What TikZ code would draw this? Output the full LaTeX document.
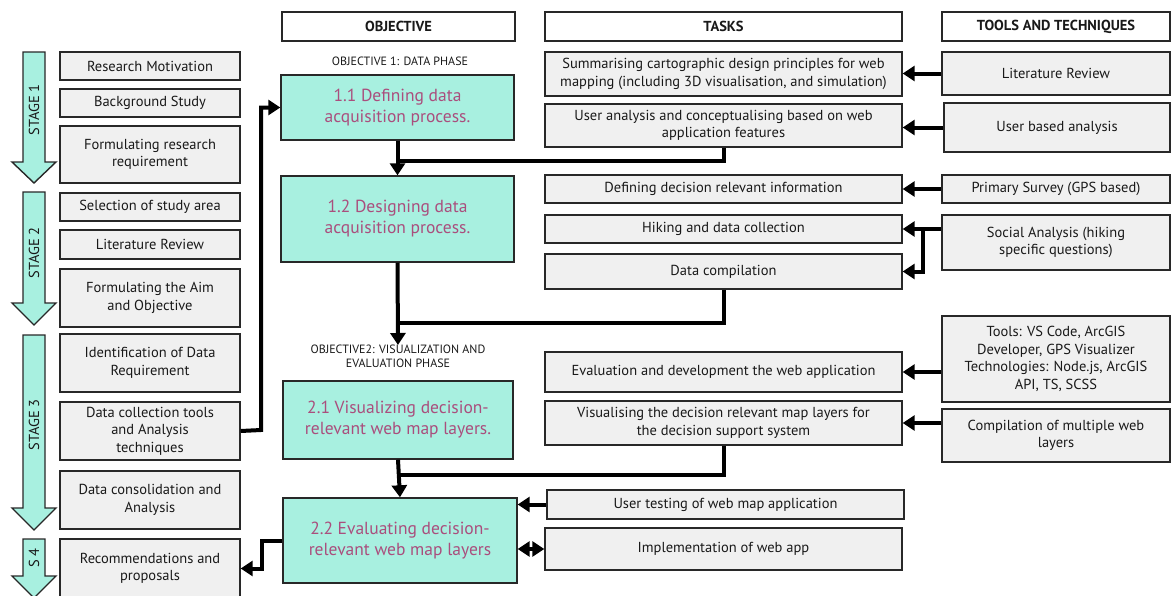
\documentclass[tikz,border=0pt]{standalone}
\usepackage{fontspec}
\setmainfont{PT Sans}
\usetikzlibrary{arrows.meta}
\definecolor{teal1}{RGB}{168,240,224}
\definecolor{gray1}{RGB}{240,240,240}
\definecolor{bord}{RGB}{40,40,40}
\definecolor{pinktxt}{RGB}{170,78,125}
\definecolor{txt}{RGB}{25,25,25}
\newcommand\mybox[7]{%
  \pgfmathsetmacro\bxw{#5-#3}\pgfmathsetmacro\bxh{#6-#4}%
  \node[#1, minimum width=\bxw pt, minimum height=\bxh pt] (#2) at ({(#3+#5)/2},{(#4+#6)/2}) {#7};}
\begin{document}
\begin{tikzpicture}[x=1pt,y=-1pt,
  gbox/.style={draw=bord, line width=1.4pt, fill=gray1, align=center, inner sep=0pt, text=txt, font=\fontsize{14.5}{17.5}\selectfont},
  tbox/.style={draw=bord, line width=1.4pt, fill=teal1, align=center, inner sep=0pt, text=pinktxt, font=\fontsize{17.5}{21}\selectfont},
  hbox/.style={draw=bord, line width=1.4pt, fill=white, align=center, inner sep=0pt, text=txt, font=\bfseries\fontsize{14.5}{17}\selectfont},
  lbl/.style={align=center, text=txt, font=\fontsize{12}{13.5}\selectfont, inner sep=0pt},
  stg/.style={draw=bord, line width=1.4pt, fill=teal1, line join=miter},
  stgl/.style={rotate=90, text=txt, font=\fontsize{14.5}{17}\selectfont, inner sep=0pt},
  ln/.style={line width=4pt, draw=black},
  arr/.style={line width=4pt, draw=black, -{Triangle[length=12pt,width=15pt]}},
  darr/.style={line width=4pt, draw=black, {Triangle[length=12pt,width=15pt]}-{Triangle[length=12pt,width=15pt]}}
]
\useasboundingbox (0,0) rectangle (1171,595);

% stage arrows
\draw[stg] (23,52) -- (45,52) -- (45,162) -- (56,162) -- (34,183) -- (12,162) -- (23,162) -- cycle;
\draw[stg] (23,192) -- (45,192) -- (45,303) -- (56,303) -- (34,325) -- (12,303) -- (23,303) -- cycle;
\draw[stg] (23,335) -- (45,335) -- (45,508) -- (56,508) -- (34,530) -- (12,508) -- (23,508) -- cycle;
\draw[stg] (23,539) -- (45,539) -- (45,576) -- (56,576) -- (34,598) -- (12,576) -- (23,576) -- cycle;
\node[stgl] (s1) at (34,110) {STAGE 1};
\node[stgl] (s2) at (34,253) {STAGE 2};
\node[stgl] (s3) at (34,425) {STAGE 3};
\node[stgl] (s4) at (34,558) {S 4};

% left column
\mybox{gbox}{rm}{60}{52}{240}{80}{Research Motivation}
\mybox{gbox}{bs}{60}{89}{240}{117}{Background Study}
\mybox{gbox}{frr}{60}{126}{240}{183}{Formulating research\\requirement}
\mybox{gbox}{ssa}{60}{193}{240}{221}{Selection of study area}
\mybox{gbox}{lr}{60}{230}{240}{259}{Literature Review}
\mybox{gbox}{fao}{60}{269}{240}{327}{Formulating the Aim\\and Objective}
\mybox{gbox}{idr}{60}{334}{240}{392}{Identification of Data\\Requirement}
\mybox{gbox}{dct}{60}{402}{240}{460}{Data collection tools\\and Analysis\\techniques}
\mybox{gbox}{dca}{60}{471}{240}{529}{Data consolidation and\\Analysis}
\mybox{gbox}{rec}{60}{539}{240}{598}{Recommendations and\\proposals}

% headers
\mybox{hbox}{hobj}{282}{12}{515}{41}{OBJECTIVE}
\mybox{hbox}{htask}{545}{12}{902}{41}{TASKS}
\mybox{hbox}{htool}{942}{12}{1170}{41}{TOOLS AND TECHNIQUES}

% objective column
\node[lbl] (o1) at (400,61) {OBJECTIVE 1: DATA PHASE};
\mybox{tbox}{d11}{281}{75}{514}{140}{1.1 Defining data\\acquisition process.}
\mybox{tbox}{d12}{281}{176}{514}{262}{1.2 Designing data\\acquisition process.}
\node[lbl, anchor=north] (o2) at (398,345) {OBJECTIVE2: VISUALIZATION AND\\EVALUATION PHASE};
\mybox{tbox}{v21}{283}{381}{513}{459}{2.1 Visualizing decision-\\relevant web map layers.}
\mybox{tbox}{e22}{283}{498}{517}{583}{2.2 Evaluating decision-\\relevant web map layers}

% tasks column
\mybox{gbox}{sum}{545}{52}{902}{96}{Summarising cartographic design principles for web\\mapping (including 3D visualisation, and simulation)}
\mybox{gbox}{ua}{545}{104}{902}{147}{User analysis and conceptualising based on web\\application features}
\mybox{gbox}{ddi}{545}{175}{902}{203}{Defining decision relevant information}
\mybox{gbox}{hik}{545}{215}{902}{243}{Hiking and data collection}
\mybox{gbox}{dc}{545}{254}{902}{289}{Data compilation}
\mybox{gbox}{ev}{545}{352}{902}{392}{Evaluation and development the web application}
\mybox{gbox}{vis}{545}{401}{902}{445}{Visualising the decision relevant map layers for\\the decision support system}
\mybox{gbox}{ut}{547}{490}{904}{519}{User testing of web map application}
\mybox{gbox}{imp}{545}{528}{902}{570}{Implementation of web app}

% tools column
\mybox{gbox}{tlr}{942}{52}{1170}{95}{Literature Review}
\mybox{gbox}{tuba}{944}{103}{1170}{152}{User based analysis}
\mybox{gbox}{tps}{942}{175}{1170}{203}{Primary Survey (GPS based)}
\mybox{gbox}{tsa}{942}{215}{1170}{270}{Social Analysis (hiking\\specific questions)}
\mybox{gbox}{ttt}{942}{316}{1170}{402}{Tools: VS Code, ArcGIS\\Developer, GPS Visualizer\\Technologies: Node.js, ArcGIS\\API, TS, SCSS}
\mybox{gbox}{tcm}{942}{409}{1170}{462}{Compilation of multiple web\\layers}

% junction coordinates
\coordinate (j1) at (398,161);
\coordinate (j2) at (398,323);
\coordinate (j3) at (398,475);
\coordinate (jb) at (923,229);

% connectors: tools to tasks
\draw[arr] (tlr.west) -- (tlr.west -| sum.east);
\draw[arr] (tuba.west) -- (tuba.west -| ua.east);
\draw[arr] (tps.west) -- (ddi.east);
\draw[arr] (hik.east -| tsa.west) -- (hik.east);
\draw[arr] (jb) |- (dc.east);
\draw[arr] (ev.east -| ttt.west) -- (ev.east);
\draw[arr] (vis.east -| tcm.west) -- (vis.east);

% objective flow
\draw[arr] (d11.south) -- (d12.north);
\draw[ln] (ua.south) |- (j1);
\draw[arr] (d12.south) -- (o2.north);
\draw[ln] (dc.south) |- (j2);
\draw[arr] (v21.south) -- (e22.north);
\draw[ln] (vis.south) |- (j3);
\draw[arr] (ut.west) -- (ut.west -| e22.east);
\draw[darr] (e22.east |- imp.west) -- (imp.west);

% left connectors
\draw[arr] (dct.east) -- (261,430) |- (d11.west);
\draw[arr] (e22.west) -- (262,540.5) |- (rec.east);
\end{tikzpicture}
\end{document}
